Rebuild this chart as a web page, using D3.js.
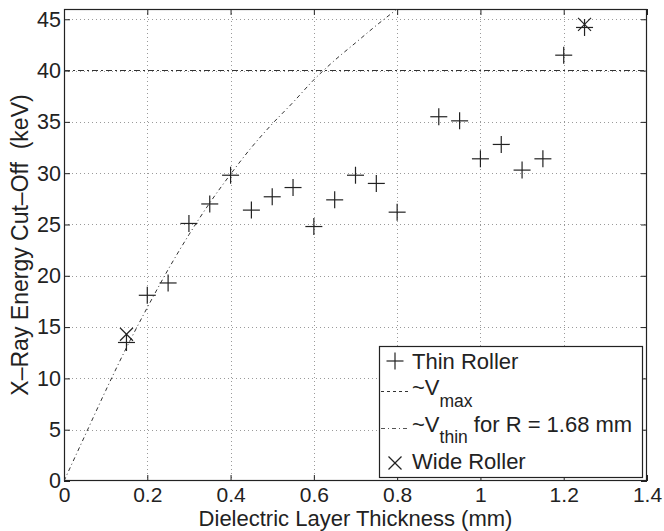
<!DOCTYPE html>
<html>
<head>
<meta charset="utf-8">
<script src="https://cdn.jsdelivr.net/npm/d3@7"></script>
<style>
  html, body { margin: 0; padding: 0; background: #fff; }
  svg { display: block; }
  text { font-family: "Liberation Sans", Arial, Helvetica, sans-serif; fill: #222; }
</style>
</head>
<body>
<script>
// Thin roller measurements: dielectric thickness (mm) and cut-off energy (keV)
const thinX = [0.15, 0.2, 0.25, 0.3, 0.35, 0.4, 0.45, 0.5, 0.55, 0.6, 0.65, 0.7, 0.75, 0.8,
               0.9, 0.95, 1.0, 1.05, 1.1, 1.15, 1.2, 1.25];
const thinY = [13.5, 18.1, 19.3, 25.1, 27.0, 29.8, 26.4, 27.7, 28.6, 24.8, 27.4, 29.8, 29.0, 26.2,
               35.5, 35.1, 31.4, 32.8, 30.3, 31.4, 41.5, 44.2];

// Wide roller measurements
const wideX = [0.15, 1.25];
const wideY = [14.3, 44.5];

// Maximum voltage level (keV)
const vMax = 40;

// Estimated thin-roller voltage curve, R = 1.68 mm
const vThinX = [0, 0.05, 0.1, 0.15, 0.2, 0.25, 0.3, 0.35, 0.4, 0.45, 0.5, 0.55, 0.6, 0.65, 0.7, 0.75, 0.8, 0.85];
const vThinY = [0, 4.4, 8.8, 13.0, 16.9, 20.6, 24.0, 27.1, 29.9, 32.5, 34.8, 36.9, 39.1, 41.0, 42.7, 44.4, 46.0, 47.6];

// Axis ticks
const xTicks = [0, 0.2, 0.4, 0.6, 0.8, 1, 1.2, 1.4];
const xTickLabels = ["0", "0.2", "0.4", "0.6", "0.8", "1", "1.2", "1.4"];
const yTicks = [0, 5, 10, 15, 20, 25, 30, 35, 40, 45];

const W = 664, H = 531;
const m = { left: 64, right: 647, top: 9, bottom: 481 };
const ink = "#222";

const svg = d3.select("body").append("svg").attr("width", W).attr("height", H);

const x = d3.scaleLinear().domain([0, 1.4]).range([m.left, m.right]);
const y = d3.scaleLinear().domain([0, 46]).range([m.bottom, m.top]);

svg.append("defs").append("clipPath").attr("id", "plot")
  .append("rect").attr("x", m.left).attr("y", m.top)
  .attr("width", m.right - m.left).attr("height", m.bottom - m.top);

// Dotted grid
const grid = svg.append("g").attr("stroke", "#9a9a9a").attr("stroke-width", 1)
  .attr("stroke-dasharray", "1,3");
grid.selectAll(".gx").data(xTicks.slice(1, -1)).enter().append("line")
  .attr("x1", d => Math.round(x(d)) + 0.5).attr("x2", d => Math.round(x(d)) + 0.5)
  .attr("y1", m.top).attr("y2", m.bottom);
grid.selectAll(".gy").data(yTicks.slice(1)).enter().append("line")
  .attr("y1", d => Math.round(y(d)) + 0.5).attr("y2", d => Math.round(y(d)) + 0.5)
  .attr("x1", m.left).attr("x2", m.right);

// Axes with inward ticks on all four sides
const tickLen = 6;
const axB = svg.append("g").attr("transform", `translate(0,${m.bottom})`)
  .call(d3.axisBottom(x).tickValues(xTicks).tickSizeInner(-tickLen).tickSizeOuter(0)
    .tickFormat((d, i) => xTickLabels[i]).tickPadding(6.5));
const axT = svg.append("g").attr("transform", `translate(0,${m.top})`)
  .call(d3.axisTop(x).tickValues(xTicks).tickSizeInner(-tickLen).tickSizeOuter(0).tickFormat(""));
const axL = svg.append("g").attr("transform", `translate(${m.left},0)`)
  .call(d3.axisLeft(y).tickValues(yTicks).tickSizeInner(-tickLen).tickSizeOuter(0).tickPadding(3));
const axR = svg.append("g").attr("transform", `translate(${m.right},0)`)
  .call(d3.axisRight(y).tickValues(yTicks).tickSizeInner(-tickLen).tickSizeOuter(0).tickFormat(""));

[axB, axT, axL, axR].forEach(a => {
  a.select(".domain").remove();
  a.selectAll(".tick line").attr("stroke", ink);
  a.selectAll("text").attr("font-size", 21.5).attr("fill", ink);
});
axB.selectAll("text").attr("font-size", 21).attr("dy", "0.71em");

// Plot frame
svg.append("rect").attr("x", m.left + 0.5).attr("y", m.top + 0.5)
  .attr("width", m.right - m.left - 1).attr("height", m.bottom - m.top - 1)
  .attr("fill", "none").attr("stroke", ink).attr("stroke-width", 1.2);

const plot = svg.append("g").attr("clip-path", "url(#plot)");

// ~Vmax reference level
plot.append("line")
  .attr("x1", m.left).attr("x2", m.right)
  .attr("y1", y(vMax)).attr("y2", y(vMax))
  .attr("stroke", "#333").attr("stroke-width", 1.1).attr("stroke-dasharray", "6,3,2,3");

// ~Vthin curve
const curve = d3.line().x(d => x(d[0])).y(d => y(d[1])).curve(d3.curveMonotoneX);
plot.append("path")
  .datum(vThinX.map((v, i) => [v, vThinY[i]]))
  .attr("d", curve)
  .attr("fill", "none").attr("stroke", "#333").attr("stroke-width", 1)
  .attr("stroke-dasharray", "4,3,1,3");

// Markers
function plus(g, cx, cy, r) {
  g.append("line").attr("x1", cx - r).attr("x2", cx + r).attr("y1", cy).attr("y2", cy);
  g.append("line").attr("x1", cx).attr("x2", cx).attr("y1", cy - r).attr("y2", cy + r);
}
function cross(g, cx, cy, r) {
  g.append("line").attr("x1", cx - r).attr("x2", cx + r).attr("y1", cy - r).attr("y2", cy + r);
  g.append("line").attr("x1", cx - r).attr("x2", cx + r).attr("y1", cy + r).attr("y2", cy - r);
}
const mk = plot.append("g").attr("stroke", ink).attr("stroke-width", 1.2);
thinX.forEach((v, i) => plus(mk, x(v), y(thinY[i]), 8.5));
wideX.forEach((v, i) => cross(mk, x(v), y(wideY[i]), 6.5));

// Axis labels
svg.append("text").attr("x", (m.left + m.right) / 2).attr("y", 526.3)
  .attr("text-anchor", "middle").attr("font-size", 22)
  .text("Dielectric Layer Thickness (mm)");
svg.append("text")
  .attr("transform", `translate(28,${(m.top + m.bottom) / 2}) rotate(-90)`)
  .attr("text-anchor", "middle").attr("font-size", 23)
  .attr("xml:space", "preserve")
  .text("X\u2013Ray Energy Cut\u2013Off  (keV)");

// Legend
const lg = svg.append("g");
lg.append("rect").attr("x", 379.5).attr("y", 346.5).attr("width", 263).attr("height", 131)
  .attr("fill", "#fff").attr("stroke", ink).attr("stroke-width", 1.2);
const lm = lg.append("g").attr("stroke", ink).attr("stroke-width", 1.2);
plus(lm, 395, 361, 8.5);
cross(lm, 395, 463, 6.5);
lg.append("line").attr("x1", 381).attr("x2", 409).attr("y1", 391.5).attr("y2", 391.5)
  .attr("stroke", "#333").attr("stroke-dasharray", "3,3");
lg.append("line").attr("x1", 381).attr("x2", 409).attr("y1", 428.5).attr("y2", 428.5)
  .attr("stroke", "#555").attr("stroke-dasharray", "4,3,1,3");

const tx = 412;
lg.append("text").attr("x", tx).attr("y", 368.5).attr("font-size", 22).text("Thin Roller");
const t2 = lg.append("text").attr("x", tx).attr("y", 395).attr("font-size", 22);
t2.append("tspan").text("~V");
t2.append("tspan").attr("font-size", 17.5).attr("dy", 12).text("max");
const t3 = lg.append("text").attr("x", tx).attr("y", 431.5).attr("font-size", 22)
  .attr("xml:space", "preserve");
t3.append("tspan").text("~V");
t3.append("tspan").attr("font-size", 17.5).attr("dy", 11).text("thin");
t3.append("tspan").attr("dy", -11).text(" for R = 1.68 mm");
lg.append("text").attr("x", tx).attr("y", 469).attr("font-size", 22).text("Wide Roller");
</script>
</body>
</html>
